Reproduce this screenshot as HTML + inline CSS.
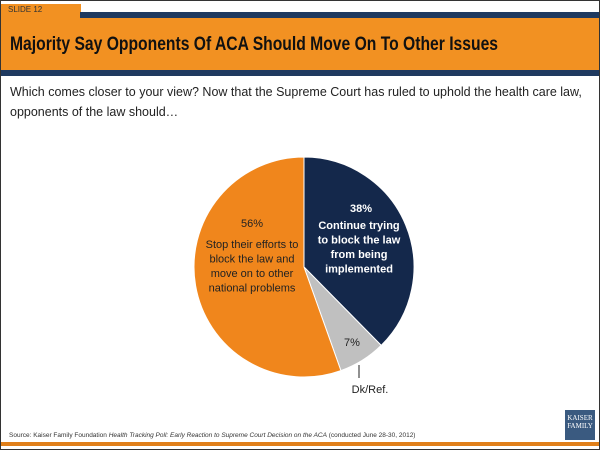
<!DOCTYPE html>
<html><head><meta charset="utf-8"><style>
body{margin:0;width:600px;height:450px;background:#fff;font-family:"Liberation Sans",sans-serif;overflow:hidden;position:relative}
.abs{position:absolute}
</style></head><body>
<div class="abs" style="left:0;top:0;width:598px;height:448px;border:1px solid #333"></div>
<div class="abs" style="left:1px;top:4px;width:80px;height:14px;background:#f29122"></div>
<div class="abs" style="left:8px;top:5px;font-size:8px;color:#333">SLIDE 12</div>
<div class="abs" style="left:80px;top:12px;width:519px;height:6px;background:#1f3a60"></div>
<div class="abs" style="left:1px;top:18px;width:598px;height:52px;background:#f29122"></div>
<div class="abs" style="left:1px;top:70px;width:598px;height:6px;background:#1f3a60"></div>
<div class="abs" style="left:10px;top:34px;font-size:19px;font-weight:bold;color:#111;white-space:nowrap;transform:scaleX(0.825);transform-origin:0 0">Majority Say Opponents Of ACA Should Move On To Other Issues</div>
<div class="abs" style="left:10px;top:82px;font-size:12.5px;color:#222;line-height:20px;white-space:nowrap">Which comes closer to your view? Now that the Supreme Court has ruled to uphold the health care law,<br>opponents of the law should…</div>
<svg class="abs" style="left:0;top:0" width="600" height="450"><g id="pie"></g></svg>
<div class="abs" style="left:9px;top:432px;font-size:6.5px;color:#333;white-space:nowrap">Source: Kaiser Family Foundation <i>Health Tracking Poll: Early Reaction to Supreme Court Decision on the ACA</i> (conducted June 28-30, 2012)</div>
<div class="abs" style="left:565px;top:410px;width:30px;height:30px;background:#3a5a80;color:#fff;font-family:'Liberation Serif',serif;font-size:7px;text-align:center;line-height:8px;padding-top:4px;box-sizing:border-box">KAISER<br>FAMILY</div>
<div class="abs" style="left:1px;top:442px;width:598px;height:4px;background:#e07f1a"></div>
<script>
const categories=["Continue trying to block the law","Dk/Ref.","Stop their efforts"];
const values=[38,7,56];
const colors=["#14284b","#c0c0c0","#f0861c"];
const labels=["38%","7%","56%"];
const cx=304,cy=267,r=110;
const total=values.reduce((a,b)=>a+b,0);
const g=document.getElementById('pie');
const NS="http://www.w3.org/2000/svg";
let a0=0;
function pt(a,rr){return [cx+rr*Math.sin(a),cy-rr*Math.cos(a)];}
values.forEach((v,i)=>{
  const a1=a0+v/total*2*Math.PI;
  const p0=pt(a0,r),p1=pt(a1,r);
  const p=document.createElementNS(NS,'path');
  p.setAttribute('d',`M${cx},${cy}L${p0[0]},${p0[1]}A${r},${r} 0 ${a1-a0>Math.PI?1:0} 1 ${p1[0]},${p1[1]}Z`);
  p.setAttribute('fill',colors[i]);p.setAttribute('stroke','#fff');p.setAttribute('stroke-width','1');
  
  
  g.appendChild(p);
  a0=a1;
});
function txt(x,y,s,fill,bold,name){const t=document.createElementNS(NS,'text');t.setAttribute('x',x);t.setAttribute('y',y);t.setAttribute('text-anchor','middle');t.setAttribute('font-size','11');t.setAttribute('fill',fill);if(bold)t.setAttribute('font-weight','bold');t.textContent=s;


g.appendChild(t);}
txt(361,212,labels[0],'#fff',true,'label-continue-pct');
["Continue trying","to block the law","from being","implemented"].forEach((s,i)=>txt(359,229+i*14.5,s,'#fff',true,'label-continue-text'));
txt(252,227,labels[2],'#222',false,'label-stop-pct');
["Stop their efforts to","block the law and","move on to other","national problems"].forEach((s,i)=>txt(252,248+i*14.5,s,'#222',false,'label-stop-text'));
txt(352,346,labels[1],'#222',false,'label-dk-pct');
const ln=document.createElementNS(NS,'line');ln.setAttribute('x1',359);ln.setAttribute('x2',359);ln.setAttribute('y1',365);ln.setAttribute('y2',378);ln.setAttribute('stroke','#222');


g.appendChild(ln);
txt(370,393,'Dk/Ref.','#222',false,'label-dk-text');
</script>
</body></html>
